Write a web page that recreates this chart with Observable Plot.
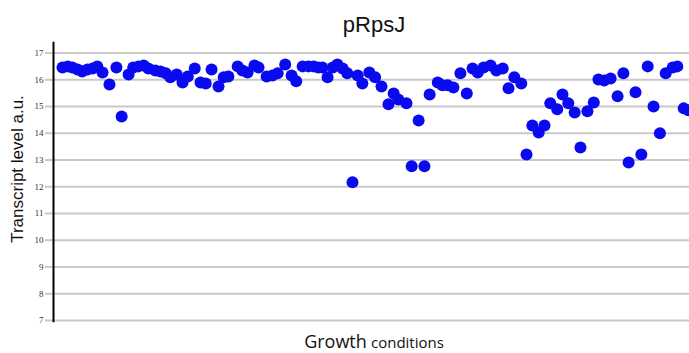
<!DOCTYPE html>
<html><head><meta charset="utf-8">
<script src="https://cdn.jsdelivr.net/npm/d3@7"></script>
<script src="https://cdn.jsdelivr.net/npm/@observablehq/plot@0.6"></script>
<style>
body{margin:0;background:#fff;}
#wrap{position:relative;width:689px;height:353px;overflow:hidden;font-family:"Liberation Sans",Arial,sans-serif;background:#fff;}
#title{position:absolute;left:53px;width:642px;top:14px;text-align:center;font-size:22px;line-height:22px;color:#111;}
#ylab{position:absolute;left:-82px;top:159px;width:200px;height:20px;line-height:20px;font-size:17px;text-align:center;transform:rotate(-90deg);color:#111;white-space:nowrap;}
#xlab{position:absolute;left:53px;width:642px;top:332px;text-align:center;font-family:"Open Sans",sans-serif;color:#111;line-height:19px;white-space:nowrap;}
#xlab .a{font-size:18px;}
#xlab .b{font-size:15px;}
#chart{position:absolute;left:0;top:40px;}
</style></head>
<body>
<div id="wrap">
  <div id="title"></div>
  <div id="ylab"></div>
  <div id="chart"></div>
  <div id="xlab"><span class="a"></span> <span class="b"></span></div>
</div>
<script>
const titleText = "pRpsJ";
const yLabel = "Transcript level a.u.";
const xLabelMain = "Growth";
const xLabelSub = "conditions";
const yTicks = [7, 8, 9, 10, 11, 12, 13, 14, 15, 16, 17];
// position of each growth condition along the x axis
const condition = [
  0, 0.9, 1.7, 2.6, 3.4, 4.3, 5.2, 6.0, 6.9, 8.1,
  9.3, 10.2, 11.4, 12.2, 13.1, 14.0, 14.8, 16.0, 16.9, 17.8,
  18.6, 19.7, 20.7, 21.6, 22.8, 23.8, 24.7, 25.7, 26.9, 27.8,
  28.6, 30.2, 31.0, 31.9, 33.1, 33.8, 35.2, 36.2, 37.1, 38.4,
  39.5, 40.3, 41.4, 42.4, 43.3, 44.1, 44.8, 45.7, 46.6, 47.4,
  48.3, 49.1, 50.0, 50.9, 51.7, 52.9, 53.9, 55.0, 56.2, 57.1,
  57.9, 59.3, 60.2, 61.4, 62.4, 63.3, 64.7, 65.5, 66.4, 67.4,
  68.6, 69.7, 70.7, 71.6, 72.6, 73.8, 74.8, 75.9, 76.9, 77.9,
  79.1, 80.0, 81.0, 82.1, 83.1, 84.1, 85.3, 86.2, 87.2, 88.3,
  89.3, 90.5, 91.6, 92.4, 93.4, 94.5, 95.7, 96.7, 97.6, 98.8,
  99.8, 100.9, 101.9, 103.0, 104.0, 105.2, 106.0, 107.1, 107.9
];
const transcript = [
  16.46,16.50,16.46,16.38,16.31,16.38,16.42,16.50,16.27,15.82,
  16.46,14.63,16.20,16.46,16.50,16.53,16.42,16.35,16.31,16.24,
  16.09,16.20,15.90,16.12,16.42,15.90,15.86,16.38,15.75,16.09,
  16.12,16.50,16.35,16.27,16.53,16.46,16.12,16.16,16.24,16.57,
  16.16,15.94,16.50,16.50,16.50,16.46,16.46,16.09,16.46,16.57,
  16.42,16.24,12.17,16.16,15.86,16.27,16.09,15.75,15.08,15.49,
  15.26,15.12,12.77,14.48,12.77,15.45,15.90,15.79,15.79,15.71,
  16.24,15.49,16.42,16.27,16.46,16.53,16.35,16.42,15.68,16.09,
  15.86,13.21,14.29,14.03,14.29,15.12,14.90,15.45,15.12,14.78,
  13.47,14.82,15.15,16.01,15.97,16.05,15.38,16.24,12.91,15.53,
  13.21,16.50,15.00,14.00,16.24,16.46,16.50,14.93,14.86
];

document.getElementById("title").textContent = titleText;
document.getElementById("ylab").textContent = yLabel;
document.querySelector("#xlab .a").textContent = xLabelMain;
document.querySelector("#xlab .b").textContent = xLabelSub;

const data = transcript.map((v, i) => ({condition: condition[i], level: v}));
const xDomain = [-1.55, 108.1];

const chart = Plot.plot({
  width: 689,
  height: 292,
  marginTop: 12.5,
  marginBottom: 12,
  marginLeft: 53,
  marginRight: 0,
  x: {domain: xDomain, axis: null},
  y: {domain: [7, 17], ticks: yTicks},
  style: {background: "transparent"},
  marks: [
    Plot.gridY(yTicks, {stroke: "#c9c9c9", strokeOpacity: 1, strokeWidth: 2}),
    Plot.axisY(yTicks, {tickSize: 8, stroke: "#c9c9c9", strokeWidth: 2, tickPadding: 2, fontSize: 9, fontFamily: "Liberation Serif", fill: "#333", label: null}),
    Plot.ruleX([xDomain[0]], {y1: 17.4, y2: 6.92, stroke: "#000", strokeWidth: 2}),
    Plot.dot(data, {x: "condition", y: "level", r: 6, fill: "#0a0af0", stroke: "none"})
  ]
});
document.getElementById("chart").appendChild(chart);
</script>
</body></html>
